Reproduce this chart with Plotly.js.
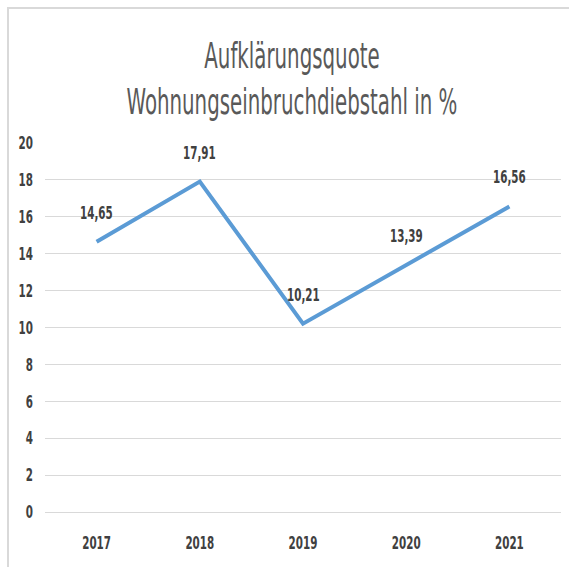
<!DOCTYPE html>
<html>
<head>
<meta charset="utf-8">
<script src="https://cdn.plot.ly/plotly-3.0.1.min.js"></script>
<style>
html,body{margin:0;padding:0;background:#fff;}
#wrap{position:relative;width:569px;height:567px;overflow:hidden;}
#chart{position:absolute;left:0;top:0;width:569px;height:567px;}
#frame{position:absolute;left:7px;top:7px;width:600px;height:600px;border-top:2px solid #d9d9d9;border-left:2px solid #d9d9d9;pointer-events:none;}
</style>
</head>
<body>
<div id="wrap"><div id="chart"></div><div id="frame"></div></div>
<script>
const years = [2017, 2018, 2019, 2020, 2021];
const quote = [14.65, 17.91, 10.21, 13.39, 16.56];
const labels = ['14,65', '17,91', '10,21', '13,39', '16,56'];
const yTicks = [0, 2, 4, 6, 8, 10, 12, 14, 16, 18, 20];

const fontFam = '"DejaVu Sans Condensed", "DejaVu Sans", sans-serif';
const STRETCH = 1.55;   // the reference text is drawn tall and narrow

const trace = {
  x: years,
  y: quote,
  type: 'scatter',
  mode: 'lines',
  line: {color: '#5B9BD5', width: 4},
  hoverinfo: 'skip'
};

const annotations = years.map((yr, i) => ({
  x: yr, y: quote[i], xref: 'x', yref: 'y',
  text: '<b>' + labels[i] + '</b>',
  showarrow: false, yshift: 29,
  font: {family: fontFam, size: 11.5, color: '#404040', stretch: 'condensed'}
}));

const layout = {
  width: 569, height: 567,
  margin: {l: 45, r: 8, t: 143, b: 55},
  paper_bgcolor: 'rgba(0,0,0,0)',
  plot_bgcolor: '#fff',
  showlegend: false,
  title: {
    text: 'Aufklärungsquote<br>Wohnungseinbruchdiebstahl in %',
    font: {family: fontFam, size: 22, color: '#595959', stretch: 'condensed'},
    x: 292 / 569, xanchor: 'center', xref: 'container',
    y: 1, yref: 'container', yanchor: 'top', pad: {t: 50}
  },
  xaxis: {
    type: 'linear',
    range: [2016.5, 2021.5],
    tickvals: years,
    ticktext: years.map(String),
    showgrid: false, zeroline: false, showline: false, ticks: '',
    tickfont: {family: fontFam, size: 11.5, color: '#404040', weight: 'bold', stretch: 'condensed'},
    ticklabelstandoff: 22
  },
  yaxis: {
    range: [0, 20],
    tickvals: yTicks,
    ticktext: yTicks.map(String),
    showgrid: true, gridcolor: '#d9d9d9', gridwidth: 1,
    zeroline: true, zerolinecolor: '#d9d9d9', zerolinewidth: 1,
    showline: false, ticks: '',
    tickfont: {family: fontFam, size: 11.5, color: '#404040', weight: 'bold', stretch: 'condensed'},
    ticklabelstandoff: 11
  },
  annotations: annotations
};

function stretchText(el, s, targetCy) {
  const bb = el.getBBox();
  const cy = bb.y + bb.height / 2;
  const to = (targetCy === undefined) ? cy : targetCy;
  const old = el.getAttribute('transform') || '';
  el.setAttribute('transform', old + ' translate(0,' + to + ') scale(1,' + s + ') translate(0,' + (-cy) + ')');
}

Plotly.newPlot('chart', [trace], layout, {displayModeBar: false, staticPlot: true}).then(gd => {
  gd.querySelectorAll('.xtick text, .ytick text, .annotation-text').forEach(el => stretchText(el, STRETCH));
  const t = gd.querySelector('.gtitle');
  if (t) stretchText(t, 1.6, 79);
});
</script>
</body>
</html>
